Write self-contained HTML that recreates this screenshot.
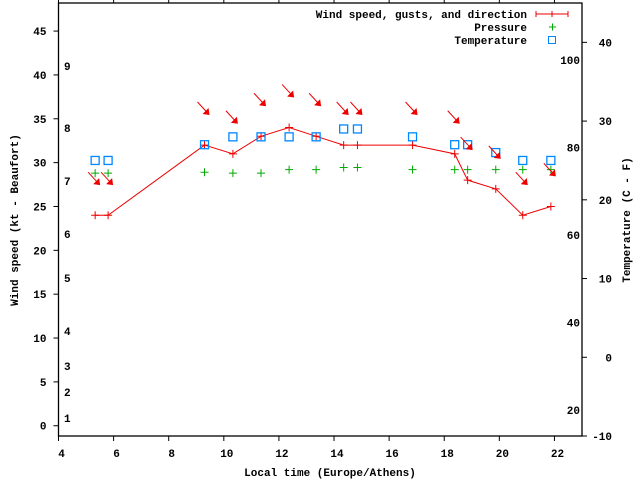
<!DOCTYPE html>
<html><head><meta charset="utf-8"><style>
body{margin:0;background:#fff}
svg text{font-family:"Liberation Mono",monospace;font-weight:bold;font-size:11px}
</style></head><body>
<svg id="chart" width="640" height="480" xmlns="http://www.w3.org/2000/svg">
<g id="axes"></g><g id="marks"></g>
</svg>
<script>
const times=[5.33,5.8,9.3,10.33,11.35,12.37,13.35,14.35,14.85,16.85,18.38,18.85,19.87,20.85,21.87];
const windSpeed=[24,24,32,31,33,34,33,32,32,32,31,28,27,24,25];
const gusts=[28,28,36,35,37,38,37,36,36,36,35,32,31,28,29];
const pressure=[28.8,28.8,28.9,28.8,28.8,29.2,29.2,29.45,29.45,29.2,29.2,29.2,29.2,29.2,29.2];
const tempC=[25,25,27,28,28,28,28,29,29,28,27,27,26,25,25];
const xTicks=[4,6,8,10,12,14,16,18,20,22];
const yTicks=[0,5,10,15,20,25,30,35,40,45];
const cTicks=[-10,0,10,20,30,40];
const fTicks=[20,40,60,80,100];
const beaufort=[["9",66],["8",128],["7",181],["6",234],["5",278],["4",331],["3",366],["2",392],["1",418]];
const L=58.5,R=582,T=3,B=436;
const X=t=>L+(t-4)/(23-4)*(R-L);
const Y=v=>B-(v+1.17)/(48.2+1.17)*(B-T);
const YC=c=>B-(c+10)/55*(B-T);
const YF=f=>YC((f-32)*5/9);
const NS="http://www.w3.org/2000/svg";
const ax=document.getElementById('axes'),mk=document.getElementById('marks');
function el(p,tag,a,txt){const e=document.createElementNS(NS,tag);for(const k in a)e.setAttribute(k,a[k]);if(txt!==undefined)e.textContent=txt;p.appendChild(e);return e;}
let e=el(ax,'rect',{x:L,y:T,width:R-L,height:B-T,fill:'none',stroke:'#000','stroke-width':1.3});


xTicks.forEach(t=>{
 el(ax,'line',{x1:X(t),x2:X(t),y1:B,y2:B+5,stroke:'#000'});
 el(ax,'line',{x1:X(t),x2:X(t),y1:0,y2:T,stroke:'#000'});
 const tx=el(ax,'text',{x:X(t)+3,y:B+21,'text-anchor':'middle'},String(t));
 
 
});
yTicks.forEach(v=>{
 el(ax,'line',{x1:L-5,x2:L,y1:Y(v),y2:Y(v),stroke:'#000'});
 const tx=el(ax,'text',{x:L-12,y:Y(v)+4,'text-anchor':'end'},String(v));
 
 
});
cTicks.forEach(c=>{
 el(ax,'line',{x1:R,x2:R+5,y1:YC(c),y2:YC(c),stroke:'#000'});
 const tx=el(ax,'text',{x:R+30,y:YC(c)+4,'text-anchor':'end'},String(c));
 
 
});
fTicks.forEach(f=>{
 const tx=el(ax,'text',{x:R-2,y:YF(f)+4,'text-anchor':'end'},String(f));
 
 
});
beaufort.forEach(b=>{
 const tx=el(ax,'text',{x:64,y:b[1]+4},b[0]);
 
 
});
e=el(ax,'text',{x:330,y:476,'text-anchor':'middle'},'Local time (Europe/Athens)');


e=el(ax,'text',{x:18,y:220,'text-anchor':'middle',transform:'rotate(-90 18 220)'},'Wind speed (kt - Beaufort)');


e=el(ax,'text',{x:630,y:220,'text-anchor':'middle',transform:'rotate(-90 630 220)'},'Temperature (C - F)');


// legend
const leg=[['Wind speed, gusts, and direction',14,'wind'],['Pressure',27,'pres'],['Temperature',40,'temp']];
leg.forEach(l=>{
 const tx=el(ax,'text',{x:527,y:l[1]+4,'text-anchor':'end'},l[0]);
 
 
});
el(ax,'line',{x1:536,x2:568,y1:14,y2:14,stroke:'#e00'});
el(ax,'line',{x1:536,x2:536,y1:11,y2:17,stroke:'#e00'});
el(ax,'line',{x1:568,x2:568,y1:11,y2:17,stroke:'#e00'});
el(ax,'line',{x1:552,x2:552,y1:11,y2:17,stroke:'#e00'});
el(ax,'path',{d:'M549 27h7M552.5 23.5v7',stroke:'#0a0',fill:'none'});
el(ax,'rect',{x:548.5,y:36.5,width:7,height:7,stroke:'#08f',fill:'none'});
// wind line
const pts=times.map((t,i)=>X(t)+','+Y(windSpeed[i])).join(' ');
e=el(mk,'polyline',{points:pts,fill:'none',stroke:'#e00'});


times.forEach((t,i)=>{
 const x=X(t),y=Y(windSpeed[i]);
 e=el(mk,'path',{d:`M${x-4} ${y}h8M${x} ${y-4}v8`,stroke:'#e00'});
 
 
 const py=Y(pressure[i]);
 e=el(mk,'path',{d:`M${x-4} ${py}h8M${x} ${py-4}v8`,stroke:'#0a0'});
 
 
 const ty=YC(tempC[i]);
 e=el(mk,'rect',{x:x-4,y:ty-4,width:8,height:8,stroke:'#08f',fill:'none','stroke-width':1.3});
 
 
 const gy=Y(gusts[i]);
 e=el(mk,'g',{});
 
 
 el(e,'line',{x1:x-7,y1:gy-8,x2:x+4,y2:gy+4,stroke:'#e00'});
 el(e,'polygon',{points:`${x+5},${gy+5} ${x-2},${gy+4} ${x+4},${gy-2}`,fill:'#e00'});
});
</script>
</body></html>
